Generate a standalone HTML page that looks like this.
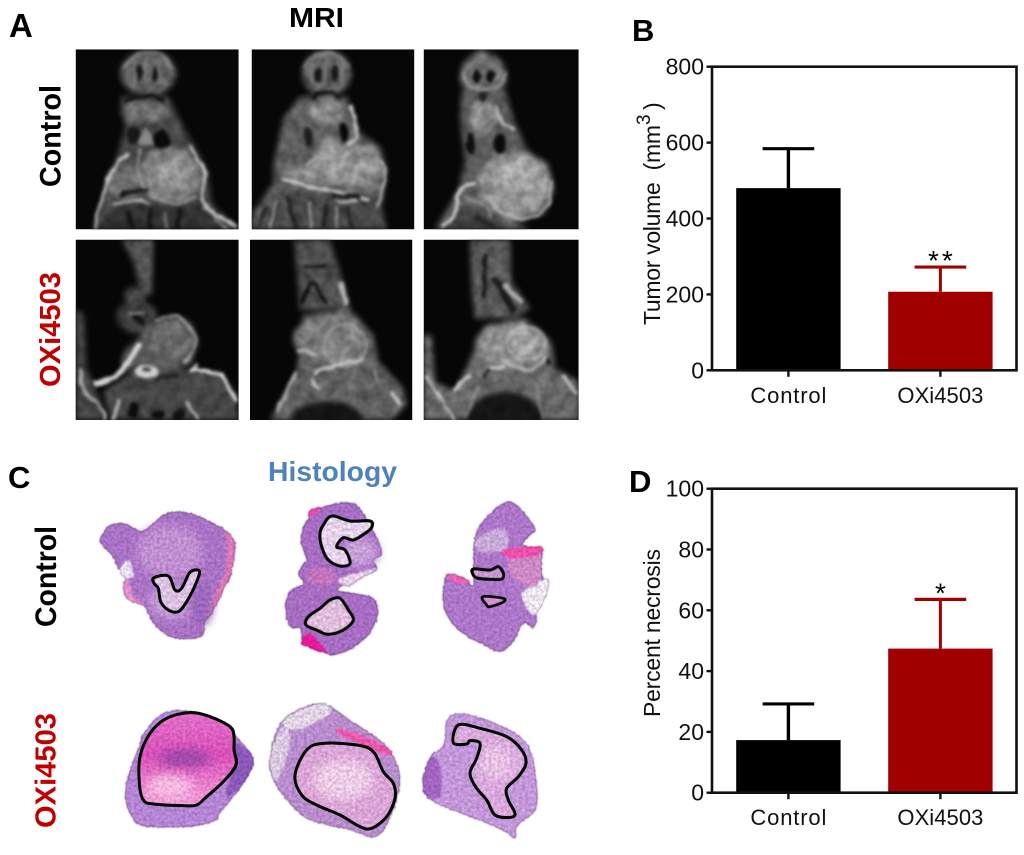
<!DOCTYPE html>
<html lang="en">
<head>
<meta charset="utf-8">
<title>MRI and histology with tumor volume and necrosis charts</title>
<style>
html,body{margin:0;padding:0;background:#fff;width:1024px;height:855px;overflow:hidden}
svg{display:block}
text{font-family:"Liberation Sans",sans-serif;white-space:pre}
</style>
</head>
<body>
<svg id="fig" xmlns="http://www.w3.org/2000/svg" width="1024" height="855" viewBox="0 0 1024 855">
<defs>
<filter id="b14" x="-40%" y="-40%" width="180%" height="180%" color-interpolation-filters="sRGB"><feGaussianBlur stdDeviation="14"/></filter>
<filter id="mriBase" x="-20%" y="-20%" width="140%" height="140%" color-interpolation-filters="sRGB">
<feGaussianBlur in="SourceGraphic" stdDeviation="9" result="s"/>
<feTurbulence type="fractalNoise" baseFrequency="0.03" numOctaves="2" seed="7"/>
<feColorMatrix values="1 0 0 0 0 1 0 0 0 0 1 0 0 0 0 0 0 0 0 1" result="n"/>
<feComposite in="s" in2="n" operator="arithmetic" k1="0.7" k2="0.65" k3="0" k4="0"/>
</filter>
<filter id="mriLine" x="-25%" y="-25%" width="150%" height="150%" color-interpolation-filters="sRGB">
<feTurbulence type="fractalNoise" baseFrequency="0.03" numOctaves="2" seed="3" result="n"/>
<feDisplacementMap in="SourceGraphic" in2="n" scale="16" xChannelSelector="R" yChannelSelector="G"/>
<feGaussianBlur stdDeviation="4.5"/>
</filter>
<filter id="rough" x="-10%" y="-10%" width="120%" height="120%" color-interpolation-filters="sRGB">
<feTurbulence type="fractalNoise" baseFrequency="0.12" numOctaves="3" seed="4" result="n"/>
<feDisplacementMap in="SourceGraphic" in2="n" scale="10" xChannelSelector="R" yChannelSelector="G"/>
<feGaussianBlur stdDeviation="2.5"/>
</filter>
<filter id="mottle" x="-5%" y="-5%" width="110%" height="110%" color-interpolation-filters="sRGB">
<feTurbulence type="fractalNoise" baseFrequency="0.11" numOctaves="3" seed="11"/>
<feColorMatrix values="1 0 0 0 0 1 0 0 0 0 1 0 0 0 0 0 0 0 0 1" result="n"/>
<feComposite in="SourceGraphic" in2="n" operator="arithmetic" k1="0.45" k2="0.78" k3="0" k4="0"/>
</filter>
<clipPath id="c1"><rect x="17" y="28" width="489" height="540"/></clipPath>
<clipPath id="c2"><rect x="545" y="28" width="488" height="540"/></clipPath>
<clipPath id="c3"><rect x="26" y="28" width="465" height="540"/></clipPath>
<clipPath id="c4"><rect x="17" y="14" width="489" height="541"/></clipPath>
<clipPath id="c5"><rect x="540" y="14" width="487" height="541"/></clipPath>
<clipPath id="c6"><rect x="26" y="14" width="465" height="541"/></clipPath>
<linearGradient id="necPink" x1="0" y1="0" x2="0" y2="1"><stop offset="0" stop-color="#e070c8"/><stop offset=".45" stop-color="#d850b8"/><stop offset="1" stop-color="#f0a0d8"/></linearGradient>
</defs>

<g font-weight="bold" fill="#000">
<text x="9" y="37" font-size="33">A</text>
<text x="632" y="41" font-size="31">B</text>
<text x="8" y="488" font-size="31">C</text>
<text x="629" y="492" font-size="31">D</text>
</g>
<text x="289" y="27" font-size="28" font-weight="bold" textLength="55" lengthAdjust="spacingAndGlyphs">MRI</text>
<text x="268" y="481" font-size="28" font-weight="bold" fill="#4f81bd" textLength="129" lengthAdjust="spacingAndGlyphs">Histology</text>
<text transform="translate(60.5,187) rotate(-90)" font-size="30" font-weight="bold" textLength="102" lengthAdjust="spacingAndGlyphs">Control</text>
<text transform="translate(60,387) rotate(-90)" font-size="29" font-weight="bold" fill="#c00000" textLength="115" lengthAdjust="spacingAndGlyphs">OXi4503</text>
<text transform="translate(56,627) rotate(-90)" font-size="30" font-weight="bold" textLength="101" lengthAdjust="spacingAndGlyphs">Control</text>
<text transform="translate(55.5,828) rotate(-90)" font-size="29" font-weight="bold" fill="#c00000" textLength="115" lengthAdjust="spacingAndGlyphs">OXi4503</text>

<!-- MRI top row (col 1,2) -->
<g transform="translate(70,40) scale(0.33333)">
<g clip-path="url(#c1)">
<rect x="17" y="28" width="489" height="540" fill="#070707"/>
<g filter="url(#mriBase)">
<ellipse cx="235" cy="100" rx="84" ry="68" fill="#606060"/>
<polygon points="150,170 295,170 345,270 375,320 415,400 425,490 506,568 70,568 110,430 145,340 165,260" fill="#484848"/>
<ellipse cx="225" cy="215" rx="72" ry="32" fill="#707070"/>
<ellipse cx="300" cy="405" rx="92" ry="85" fill="#808080"/>
<ellipse cx="310" cy="405" rx="50" ry="45" fill="#969696"/>
<ellipse cx="165" cy="425" rx="55" ry="52" fill="#6c6c6c"/>
<polygon points="70,568 150,490 400,490 480,568" fill="#333"/>
</g>
<g filter="url(#mriLine)" fill="none">
<path d="M165 80L190 50L235 38L280 50L305 85" stroke="#888" stroke-width="8"/>
<path d="M195 60L195 130M228 45L228 120M268 60L268 130" stroke="#8c8c8c" stroke-width="5"/>
<ellipse cx="210" cy="100" rx="10" ry="22" fill="#141414"/>
<ellipse cx="255" cy="100" rx="10" ry="22" fill="#141414"/>
<path d="M160 185Q230 150 285 185" stroke="#111" stroke-width="11"/>
<ellipse cx="190" cy="285" rx="18" ry="28" fill="#161616"/>
<ellipse cx="275" cy="297" rx="26" ry="26" fill="#0a0a0a"/>
<path d="M225 265L205 310L250 310Z" fill="#888"/>
<path d="M360 320L405 400L400 490L500 560" stroke="#d4d4d4" stroke-width="8"/>
<path d="M210 325L205 400L240 460L310 490L380 470" stroke="#b0b0b0" stroke-width="5"/>
<path d="M175 340L125 400L85 510L75 565" stroke="#c8c8c8" stroke-width="9"/>
<path d="M150 470Q190 445 235 452" stroke="#111" stroke-width="12"/>
<path d="M125 495Q190 470 240 490" stroke="#d0d0d0" stroke-width="6"/>
<path d="M240 500L240 568M330 505L325 568M170 510L190 565" stroke="#111" stroke-width="12"/>
<path d="M280 520L290 565M400 500L470 565" stroke="#999" stroke-width="6"/>
</g>
</g>
<g clip-path="url(#c2)">
<rect x="545" y="28" width="488" height="540" fill="#070707"/>
<g filter="url(#mriBase)">
<ellipse cx="770" cy="100" rx="74" ry="70" fill="#606060"/>
<polygon points="690,170 830,170 865,275 930,320 950,390 935,500 950,568 545,568 545,525 610,430 610,370 640,235" fill="#5e5e5e"/>
<polygon points="770,280 820,315 915,320 940,380 920,440 650,425 640,395 720,380" fill="#929292"/>
<ellipse cx="765" cy="215" rx="50" ry="36" fill="#8c8c8c"/>
<polygon points="560,568 630,450 930,470 940,568" fill="#484848"/>
</g>
<g filter="url(#mriLine)" fill="none">
<path d="M705 80L735 48L770 38L810 50L835 85" stroke="#888" stroke-width="8"/>
<path d="M770 50L765 130M725 70L730 130M815 70L815 130" stroke="#8c8c8c" stroke-width="5"/>
<ellipse cx="743" cy="105" rx="11" ry="22" fill="#161616"/>
<ellipse cx="795" cy="100" rx="11" ry="24" fill="#161616"/>
<path d="M725 175Q770 140 815 175" stroke="#111" stroke-width="12"/>
<ellipse cx="820" cy="276" rx="14" ry="32" fill="#050505"/>
<ellipse cx="715" cy="290" rx="14" ry="30" fill="#1e1e1e"/>
<path d="M840 195L862 280L835 315" stroke="#c4c4c4" stroke-width="10"/>
<path d="M635 415L720 440L800 455L900 480" stroke="#d8d8d8" stroke-width="8"/>
<path d="M790 465L870 470" stroke="#111" stroke-width="11"/>
<path d="M800 485L860 480" stroke="#ddd" stroke-width="6"/>
<path d="M705 380L740 345" stroke="#c0c0c0" stroke-width="7"/>
<path d="M930 360L945 400L925 500" stroke="#bbb" stroke-width="7"/>
<path d="M590 500L565 565M650 470L680 565M770 490L760 565M830 500L850 565" stroke="#1e1e1e" stroke-width="11"/>
<path d="M620 480L600 565M720 480L725 565M800 500L800 565" stroke="#bbb" stroke-width="5"/>
</g>
</g>
</g>
<g transform="translate(415,40) scale(0.33333)" >
<g clip-path="url(#c3)">
<rect x="26" y="28" width="465" height="540" fill="#070707"/>
<g filter="url(#mriBase)">
<ellipse cx="205" cy="108" rx="70" ry="70" fill="#6a6a6a"/>
<ellipse cx="198" cy="52" rx="22" ry="22" fill="#777"/>
<polygon points="140,150 270,150 300,250 340,335 400,370 418,450 390,520 300,545 345,568 60,568 130,450 150,360 135,240" fill="#5c5c5c"/>
<ellipse cx="205" cy="228" rx="42" ry="46" fill="#8c8c8c"/>
<ellipse cx="300" cy="435" rx="110" ry="100" fill="#929292"/>
<ellipse cx="310" cy="410" rx="60" ry="50" fill="#a8a8a8"/>
<polygon points="90,568 130,500 220,510 280,568" fill="#444"/>
</g>
<g filter="url(#mriLine)" fill="none">
<ellipse cx="185" cy="110" rx="12" ry="20" fill="#0e0e0e"/>
<ellipse cx="228" cy="110" rx="12" ry="20" fill="#0e0e0e"/>
<ellipse cx="205" cy="165" rx="14" ry="17" fill="#222"/>
<ellipse cx="168" cy="312" rx="14" ry="32" fill="#0e0e0e"/>
<ellipse cx="255" cy="312" rx="19" ry="30" fill="#0a0a0a"/>
<path d="M148 95L160 135L205 150L255 135L272 95" stroke="#aaa" stroke-width="6"/>
<path d="M240 200L265 250L300 270" stroke="#ccc" stroke-width="7"/>
<path d="M225 470L265 520L340 535L395 500L412 420" stroke="#c4c4c4" stroke-width="7"/>
<path d="M180 425L130 460L120 520L80 560" stroke="#ddd" stroke-width="9"/>
<path d="M150 470L200 490L225 530" stroke="#aaa" stroke-width="5"/>
<path d="M180 530L240 560" stroke="#222" stroke-width="12"/>
</g>
</g>
</g>

<!-- MRI bottom row (col 1,2) -->
<g transform="translate(70,235) scale(0.33333)">
<g clip-path="url(#c4)">
<rect x="17" y="14" width="489" height="541" fill="#060606"/>
<g filter="url(#mriBase)">
<polygon points="155,14 250,14 245,180 215,180 190,80" fill="#565656"/>
<ellipse cx="195" cy="182" rx="32" ry="26" fill="#484848"/>
<ellipse cx="200" cy="245" rx="62" ry="50" fill="#3c3c3c"/>
<polygon points="230,270 300,240 360,260 385,320 365,385 300,410 200,395 150,400 190,330" fill="#585858"/>
<ellipse cx="305" cy="312" rx="68" ry="55" fill="#6a6a6a"/>
<polygon points="17,225 42,235 50,400 95,510 100,555 17,555" fill="#464646"/>
<polygon points="100,470 200,400 370,405 450,410 500,480 506,555 120,555" fill="#464646"/>
<ellipse cx="185" cy="365" rx="26" ry="46" fill="#5a5a5a" transform="rotate(30 185 365)"/>
</g>
<g filter="url(#mriLine)" fill="none">
<path d="M255 255L320 245L375 300L370 345L345 385" stroke="#b4b4b4" stroke-width="6"/>
<path d="M70 445L140 420L210 325" stroke="#d8d8d8" stroke-width="16"/>
<path d="M360 405L450 420L500 500" stroke="#e4e4e4" stroke-width="10"/>
<path d="M380 385L365 410" stroke="#ccc" stroke-width="10"/>
<ellipse cx="230" cy="410" rx="36" ry="20" fill="#cfcfcf"/>
<ellipse cx="230" cy="405" rx="12" ry="7" fill="#333"/>
<path d="M30 400L40 460L95 520L105 555" stroke="#bbb" stroke-width="8"/>
<path d="M150 490L130 555M350 500L385 555" stroke="#ccc" stroke-width="8"/>
<ellipse cx="190" cy="525" rx="16" ry="26" fill="#0c0c0c"/>
<ellipse cx="265" cy="540" rx="18" ry="14" fill="#0c0c0c"/>
<ellipse cx="330" cy="540" rx="18" ry="20" fill="#111"/>
<path d="M190 230L220 270" stroke="#111" stroke-width="14"/>
<path d="M175 235L220 235" stroke="#aaa" stroke-width="6"/>
<path d="M255 430L330 420" stroke="#222" stroke-width="12"/>
</g>
</g>
<g clip-path="url(#c5)">
<rect x="540" y="14" width="487" height="541" fill="#060606"/>
<g filter="url(#mriBase)">
<polygon points="672,14 780,14 845,225 690,225" fill="#4e4e4e"/>
<polygon points="700,240 840,222 910,300 925,380 1000,460 1010,510 965,555 600,555 680,410" fill="#606060"/>
<ellipse cx="780" cy="310" rx="110" ry="70" fill="#787878"/>
<ellipse cx="825" cy="332" rx="58" ry="60" fill="#7f7f7f"/>
<ellipse cx="770" cy="560" rx="110" ry="60" fill="#141414"/>
</g>
<g filter="url(#mriLine)" fill="none">
<path d="M695 205L728 145L770 205" stroke="#0e0e0e" stroke-width="11"/>
<path d="M700 95L770 95" stroke="#111" stroke-width="9"/>
<path d="M810 140L832 212" stroke="#b8b8b8" stroke-width="13"/>
<ellipse cx="825" cy="332" rx="62" ry="64" stroke="#a8a8a8" stroke-width="6"/>
<path d="M730 420L770 398L880 375" stroke="#d0d0d0" stroke-width="9"/>
<path d="M680 345L740 360" stroke="#bcbcbc" stroke-width="9"/>
<path d="M725 430L745 465" stroke="#ccc" stroke-width="7"/>
<path d="M680 410L620 530" stroke="#aaa" stroke-width="10"/>
<path d="M965 470L990 510" stroke="#d8d8d8" stroke-width="9"/>
<path d="M910 400L925 440" stroke="#999" stroke-width="6"/>
</g>
</g>
</g>
<g transform="translate(415,235) scale(0.33333)">
<g clip-path="url(#c6)">
<rect x="26" y="14" width="465" height="541" fill="#060606"/>
<g filter="url(#mriBase)">
<polygon points="165,14 285,14 290,140 345,220 300,250 180,250 170,170" fill="#585858"/>
<polygon points="210,270 330,250 410,320 420,400 491,440 491,555 26,555 26,300 50,300 60,440 120,470 180,340" fill="#686868"/>
<ellipse cx="290" cy="330" rx="110" ry="65" fill="#8e8e8e"/>
<ellipse cx="328" cy="315" rx="40" ry="40" fill="#a8a8a8"/>
<ellipse cx="270" cy="560" rx="118" ry="90" fill="#161616"/>
</g>
<g filter="url(#mriLine)" fill="none">
<path d="M212 60L208 185" stroke="#111" stroke-width="12"/>
<path d="M235 130L300 232" stroke="#1a1a1a" stroke-width="22"/>
<path d="M265 150L320 200" stroke="#b0b0b0" stroke-width="14"/>
<ellipse cx="335" cy="325" rx="56" ry="50" stroke="#c0c0c0" stroke-width="5"/>
<path d="M260 375L340 405L395 362" stroke="#c8c8c8" stroke-width="7"/>
<path d="M215 400L270 395" stroke="#ddd" stroke-width="9"/>
<path d="M205 430L225 400" stroke="#222" stroke-width="10"/>
<path d="M30 420L110 540L120 555" stroke="#ccc" stroke-width="7"/>
<path d="M115 470L165 420" stroke="#ccc" stroke-width="12"/>
<path d="M440 420L488 475" stroke="#dcdcdc" stroke-width="8"/>
<path d="M395 370L400 385" stroke="#111" stroke-width="12"/>
<path d="M385 555L360 440M150 550L190 450" stroke="#999" stroke-width="6"/>
</g>
</g>
</g>

<!-- Histology control row -->
<g transform="translate(90,495) scale(0.33333)">
<g filter="url(#mottle)">
<g>
<g filter="url(#rough)">
<path d="M30 130L60 90L105 85L135 100L165 105L230 55L300 55L390 95L425 125L435 150L420 190L425 240L395 290L365 355L345 375L340 420L300 432L240 425L190 385L160 330L110 310L100 275L110 245L85 220L65 180L35 150Z" fill="#a872c4"/>
<path d="M400 100L435 150L420 240L365 355L350 340L405 230L408 130Z" fill="#d878b8"/>
<path d="M100 275L110 245L130 300L160 330L110 310Z" fill="#e090c8"/>
<path d="M90 225L115 195L130 240L105 250Z" fill="#e8e0ee"/>
</g>
<g filter="url(#b14)">
<ellipse cx="240" cy="170" rx="100" ry="80" fill="#c08ed0"/>
<ellipse cx="250" cy="320" rx="70" ry="50" fill="#c8a0d8"/>
<ellipse cx="330" cy="330" rx="35" ry="60" fill="#9a66bc"/>
</g>
<path d="M192 248L235 243L255 285L275 280L300 232L328 228L318 265L290 320L265 350L235 345L212 320L205 280L192 265Z" fill="#dcc0e2" stroke="#000" stroke-width="9" stroke-linejoin="round"/>
</g>
<g>
<g filter="url(#rough)">
<path d="M632 130L660 60L700 35L790 25L840 90L875 170L850 195L860 225L790 260L745 285L850 310L858 380L810 445L740 478L690 470L640 440L630 400L600 395L585 340L600 290L640 265L625 240L640 205L650 195Z" fill="#a66dc2"/>
<path d="M660 45L700 35L690 45L660 65Z" fill="#e84ca8"/>
<path d="M635 440L660 415L710 470L690 470L640 450Z" fill="#e8189a"/>
<ellipse cx="695" cy="245" rx="45" ry="28" fill="#c074bc"/>
<path d="M750 250L860 220L800 260L770 275Z" fill="#e8d0e8"/>
</g>
<ellipse cx="810" cy="170" rx="55" ry="45" fill="#c6a0d8" filter="url(#b14)"/>
<path d="M725 63L780 78L840 78L845 97L825 115L790 135L760 128L740 155L765 165L780 205L750 213L715 195L695 155L690 115L700 90Z" fill="#e4d0ea" stroke="#000" stroke-width="9" stroke-linejoin="round"/>
<path d="M720 315L750 310L775 345L790 375L760 405L715 418L680 405L648 390L655 365L690 340Z" fill="#e0bcdc" stroke="#000" stroke-width="9" stroke-linejoin="round"/>
</g>
<g>
<g filter="url(#rough)">
<path d="M1160 110L1230 30L1280 30L1335 100L1320 120L1300 150L1355 165L1350 220L1370 280L1340 340L1340 370L1330 400L1300 385L1270 440L1230 470L1170 445L1100 400L1060 330L1070 240L1120 250L1150 270L1150 215Z" fill="#ac76c8"/>
<path d="M1300 290L1370 250L1370 300L1335 360L1305 330Z" fill="#ece4ee"/>
<path d="M1070 240L1120 248L1140 265L1090 260Z" fill="#ee60b0"/>
<path d="M1160 130L1240 100L1250 160L1170 170Z" fill="#c8a8d8"/>
<path d="M1255 190L1350 180L1340 270L1280 260Z" fill="#cc88c4"/>
<path d="M1240 165L1350 155L1345 180L1260 190Z" fill="#ec4ea8"/>
</g>
<path d="M1150 222L1200 225L1225 215L1240 235L1235 252L1205 253L1165 250L1150 240Z" fill="#c896d4" stroke="#000" stroke-width="9" stroke-linejoin="round"/>
<path d="M1178 305L1240 310L1238 322L1200 335L1190 330Z" fill="#d090cc" stroke="#000" stroke-width="8" stroke-linejoin="round"/>
</g>
</g>
</g>

<!-- Histology OXi4503 row -->
<g transform="translate(110,700) scale(0.33333)">
<g filter="url(#mottle)">
<g>
<g filter="url(#rough)">
<path d="M100 100L160 40L250 35L350 75L380 110L430 180L400 250L330 340L320 360L240 380L100 378L60 340L45 280L60 210L90 130Z" fill="#b484d4"/>
<path d="M380 130L430 180L400 250L350 290L370 190Z" fill="#8a58b8"/>
</g>
<path d="M90 170L120 100L170 55L240 38L300 50L360 80L372 110L372 150L378 195L340 245L290 290L260 315L220 317L130 312L100 300L88 250Z" fill="url(#necPink)"/>
<ellipse cx="225" cy="175" rx="80" ry="28" fill="#a048a8" filter="url(#b14)"/>
<ellipse cx="180" cy="260" rx="70" ry="35" fill="#f6b8e0" filter="url(#b14)"/>
<path d="M90 170L120 100L170 55L240 38L300 50L360 80L372 110L372 150L378 195L340 245L290 290L260 315L220 317L130 312L100 300L88 250Z" fill="none" stroke="#000" stroke-width="9" stroke-linejoin="round"/>
</g>
<g>
<g filter="url(#rough)">
<path d="M480 170L520 60L630 10L720 60L830 140L870 230L850 330L800 410L720 390L600 360L540 310L490 240Z" fill="#b88ccc"/>
<path d="M520 60L630 10L660 40L560 90Z" fill="#e0d4e4"/>
<path d="M480 170L520 80L540 130L500 240Z" fill="#d8c8e0"/>
<path d="M680 85L770 110L840 150L830 165L700 110Z" fill="#e858ac"/>
</g>
<path d="M555 225L590 150L640 130L740 135L790 155L820 215L850 250L855 295L830 350L785 385L750 380L690 345L620 315L575 285Z" fill="#d9a4d6"/>
<ellipse cx="700" cy="240" rx="90" ry="60" fill="#eccbe6" filter="url(#b14)"/>
<path d="M555 225L590 150L640 130L740 135L790 155L820 215L850 250L855 295L830 350L785 385L750 380L690 345L620 315L575 285Z" fill="none" stroke="#000" stroke-width="9" stroke-linejoin="round"/>
</g>
<g>
<g filter="url(#rough)">
<path d="M1010 60L1050 40L1130 60L1230 110L1270 180L1280 320L1225 375L1215 415L1185 395L1080 350L1000 320L945 285L940 230L965 165L1000 135Z" fill="#c296d8"/>
<path d="M945 285L940 230L965 170L990 200L990 290Z" fill="#a064c0"/>
</g>
<path d="M1045 75L1110 85L1190 110L1235 150L1248 190L1225 230L1190 265L1195 300L1215 340L1200 352L1155 345L1130 300L1100 265L1080 220L1100 175L1110 130L1080 122L1070 132L1030 128Z" fill="#d8a8dc"/>
<ellipse cx="1160" cy="190" rx="50" ry="50" fill="#e6c0e4" filter="url(#b14)"/>
<path d="M1045 75L1110 85L1190 110L1235 150L1248 190L1225 230L1190 265L1195 300L1215 340L1200 352L1155 345L1130 300L1100 265L1080 220L1100 175L1110 130L1080 122L1070 132L1030 128Z" fill="none" stroke="#000" stroke-width="9" stroke-linejoin="round"/>
</g>
</g>
</g>

<g id="chart-b"></g>
<g id="chart-d"></g>
</svg>

<script>
const categories = ["Control", "OXi4503"];
const categoryLabelWidths = [76, 86];

const volumeMeans = [480, 207];
const volumeErrorTops = [584, 272];
const volumeTicks = [0, 200, 400, 600, 800];
const volumeStars = ["", "**"];

const necrosisMeans = [17.3, 47.4];
const necrosisErrorTops = [29.2, 63.6];
const necrosisTicks = [0, 20, 40, 60, 80, 100];
const necrosisStars = ["", "*"];

const barColors = ["#000000", "#a00000"];
const NS = "http://www.w3.org/2000/svg";

function mk(parent, tag, attrs, text) {
  const el = document.createElementNS(NS, tag);
  for (const k in attrs) el.setAttribute(k, attrs[k]);
  if (text !== undefined) el.textContent = text;
  parent.appendChild(el);
  return el;
}

/* Round the hand-traced tissue and line outlines into smooth curves. */
function smoothSubpath(sub) {
  const closed = /Z\s*$/i.test(sub);
  const n = sub.match(/-?\d+(\.\d+)?/g).map(Number);
  const p = [];
  for (let i = 0; i < n.length; i += 2) p.push([n[i], n[i + 1]]);
  if (p.length < 3) return sub;
  const at = i => closed ? p[(i + p.length) % p.length] : p[Math.max(0, Math.min(p.length - 1, i))];
  let d = "M" + p[0][0] + " " + p[0][1];
  const last = closed ? p.length : p.length - 1;
  for (let i = 0; i < last; i++) {
    const a = at(i - 1), b = at(i), c = at(i + 1), e = at(i + 2);
    d += "C" + (b[0] + (c[0] - a[0]) / 6) + " " + (b[1] + (c[1] - a[1]) / 6) + " " +
         (c[0] - (e[0] - b[0]) / 6) + " " + (c[1] - (e[1] - b[1]) / 6) + " " + c[0] + " " + c[1];
  }
  return d + (closed ? "Z" : "");
}
document.querySelectorAll("#fig path").forEach(el => {
  const d = el.getAttribute("d");
  if (/Q/.test(d)) return;
  const subs = d.match(/M[^M]+/g);
  el.setAttribute("d", subs.map(smoothSubpath).join(""));
});

function drawChart(root, means, tops, ticks, stars, top, bottom) {
  const left = 712, right = 1016.5;
  const maxV = ticks[ticks.length - 1];
  const y = v => bottom - (bottom - top) * v / maxV;
  const x = i => 788.4 + (940.4 - 788.4) * i;
  const barW = 104.4, capHalf = 25.8;

  means.forEach((m, i) => {
    const color = barColors[i];
    const stem = mk(root, "line", {x1: x(i), x2: x(i), y1: y(m), y2: y(tops[i]), stroke: color, "stroke-width": i ? 3 : 3.4});
    
    
    const cap = mk(root, "line", {x1: x(i) - capHalf, x2: x(i) + capHalf, y1: y(tops[i]), y2: y(tops[i]), stroke: color, "stroke-width": 3.2});
    
    
    const bar = mk(root, "rect", {x: x(i) - barW / 2, y: y(m), width: barW, height: bottom - y(m), fill: color});
    
    
    if (stars[i]) {
      const star = mk(root, "text", {x: x(i) + 1.5, y: y(tops[i]) + 3, "text-anchor": "middle", "font-size": 28, "letter-spacing": 3, fill: "#000"}, stars[i]);
      
      
    }
    const tick = mk(root, "line", {x1: x(i), x2: x(i), y1: bottom, y2: bottom + 6.5, stroke: "#111", "stroke-width": 2.4});
    
    
    const label = mk(root, "text", {x: x(i), y: bottom + 32.5, "text-anchor": "middle", "font-size": 22, fill: "#111", textLength: categoryLabelWidths[i], lengthAdjust: "spacing"}, categories[i]);
    
    
  });

  const frame = mk(root, "rect", {x: left, y: top, width: right - left, height: bottom - top, fill: "none", stroke: "#111", "stroke-width": 2.6});
  
  

  ticks.forEach(t => {
    const tick = mk(root, "line", {x1: left - 5.5, x2: left, y1: y(t), y2: y(t), stroke: "#111", "stroke-width": 2.4});
    
    
    const label = mk(root, "text", {x: 704, y: y(t) + 8, "text-anchor": "end", "font-size": 23, fill: "#111"}, String(t));
    
    
  });
}

const chartB = document.getElementById("chart-b");
const chartD = document.getElementById("chart-d");
drawChart(chartB, volumeMeans, volumeErrorTops, volumeTicks, volumeStars, 66.7, 370.3);
drawChart(chartD, necrosisMeans, necrosisErrorTops, necrosisTicks, necrosisStars, 488.7, 792.7);

const titleB = mk(chartB, "text", {transform: "translate(660,325) rotate(-90)", "font-size": 23, fill: "#111", textLength: 200, lengthAdjust: "spacing"}, "Tumor volume  (mm");


const titleSup = mk(chartB, "text", {transform: "translate(650,125) rotate(-90)", "font-size": 19, fill: "#111"}, "3");


const titleEnd = mk(chartB, "text", {transform: "translate(660,110) rotate(-90)", "font-size": 23, fill: "#111"}, ")");


const titleD = mk(chartD, "text", {transform: "translate(660,717) rotate(-90)", "font-size": 23, fill: "#111", textLength: 168, lengthAdjust: "spacing"}, "Percent necrosis");


</script>
</body>
</html>
